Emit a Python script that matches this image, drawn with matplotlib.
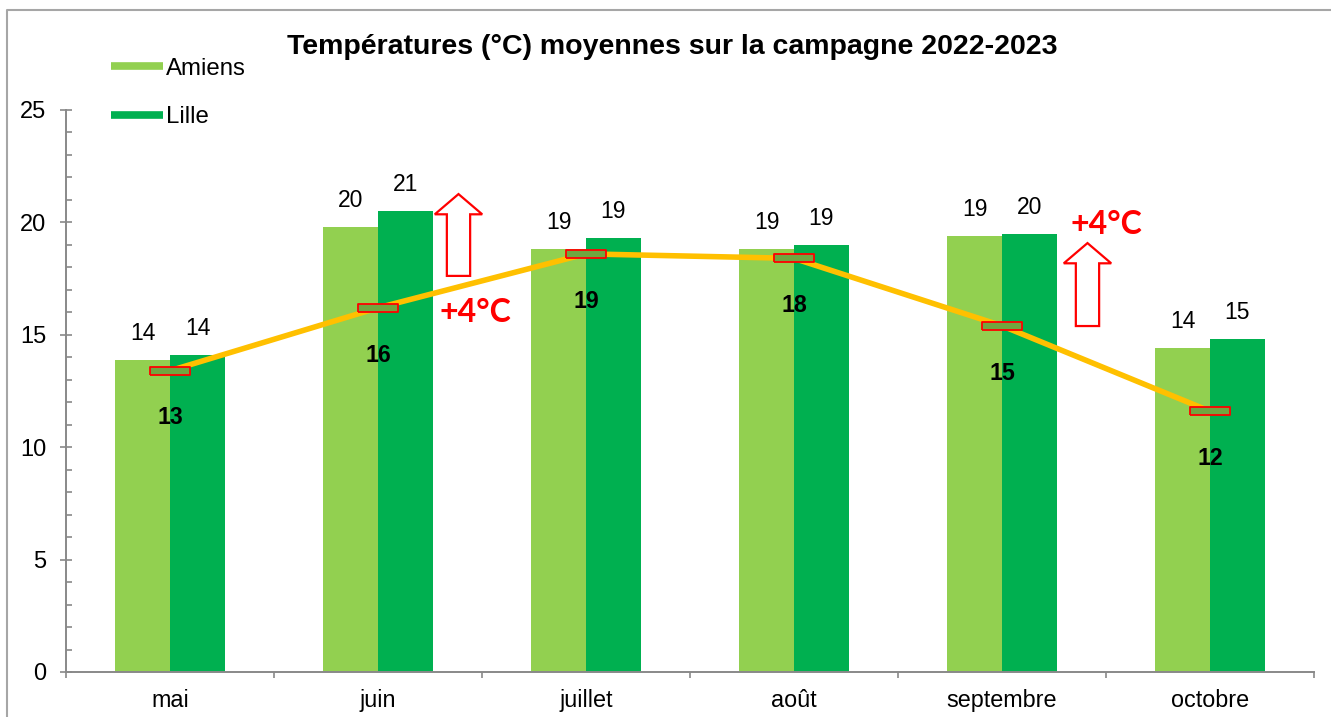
import numpy as np
import matplotlib.pyplot as plt
from matplotlib.lines import Line2D
from matplotlib.patches import FancyArrow
from matplotlib.ticker import MultipleLocator, FixedLocator

plt.rcParams['font.family'] = ['Liberation Sans', 'DejaVu Sans']

# Data
mois = ['mai', 'juin', 'juillet', 'août', 'septembre', 'octobre']
amiens = [13.9, 19.8, 18.8, 18.8, 19.4, 14.4]
lille = [14.1, 20.5, 19.3, 19.0, 19.5, 14.8]
normales = [13.4, 16.2, 18.6, 18.4, 15.4, 11.6]
normales_lbl = [13, 16, 19, 18, 15, 12]
amiens_lbl = [14, 20, 19, 19, 19, 14]
lille_lbl = [14, 21, 19, 19, 20, 15]

# Annotations "+4°C": (x category, arrow tip y, arrow base y, text x, text y)
hausses = [(1.387, 21.26, 17.62, 1.466, 16.0),
           (4.411, 19.08, 15.39, 4.50, 19.9)]

C_AMIENS = '#92D050'
C_LILLE = '#00B050'
C_LIGNE = '#FFC000'
C_AXE = '#898989'

fig = plt.figure(figsize=(13.31, 7.17), dpi=100)
ax = fig.add_axes([66 / 1331, 1 - 672 / 717, (1314 - 66) / 1331, (672 - 110) / 717])

x = np.arange(len(mois))
w = 0.264
ax.bar(x - w / 2, amiens, w, color=C_AMIENS, zorder=2)
ax.bar(x + w / 2, lille, w, color=C_LILLE, zorder=2)

ax.plot(x, normales, color=C_LIGNE, lw=4, zorder=3, solid_capstyle='butt')
rect = [(-5, -1), (5, -1), (5, 1), (-5, 1), (-5, -1)]
ax.plot(x, normales, ls='none', marker=rect, markersize=29.5,
        markerfacecolor='#70A640', markeredgecolor='#FF0000',
        markeredgewidth=1.3, zorder=4)

for i in range(len(mois)):
    ax.annotate(str(amiens_lbl[i]), (x[i] - w / 2, amiens[i]), xytext=(0, 19),
                textcoords='offset points', ha='center', va='center', fontsize=16.5)
    ax.annotate(str(lille_lbl[i]), (x[i] + w / 2, lille[i]), xytext=(0, 19),
                textcoords='offset points', ha='center', va='center', fontsize=16.5)
    ax.annotate(str(normales_lbl[i]), (x[i], normales[i]), xytext=(0, -34),
                textcoords='offset points', ha='center', va='center',
                fontsize=16.7, fontweight='bold')

for ax_x, tip, base, tx, ty in hausses:
    ax.add_patch(FancyArrow(ax_x, base, 0, tip - base, width=0.112,
                            head_width=0.228, head_length=0.9,
                            length_includes_head=True, fill=True,
                            facecolor='white', edgecolor='#FF0000', lw=1.6, zorder=5))
    ax.text(tx, ty, '+4°C', color='#FF0000', fontsize=23, fontweight='bold',
            family=['Lato', 'DejaVu Sans'], ha='center', va='center', zorder=6)

ax.set_xlim(-0.5, len(mois) - 0.5)
ax.set_ylim(0, 25)
ax.set_xticks(x)
ax.set_xticklabels(mois, fontsize=16.8)
ax.xaxis.set_minor_locator(FixedLocator(np.arange(-0.5, len(mois), 1.0)))
ax.tick_params(axis='x', which='major', length=0, pad=12)
ax.tick_params(axis='x', which='minor', length=4.5, width=1.2, color=C_AXE, direction='out')
ax.yaxis.set_major_locator(MultipleLocator(5))
ax.yaxis.set_minor_locator(MultipleLocator(1))
ax.tick_params(axis='y', which='major', length=8.6, width=1.2, color=C_AXE,
               direction='inout', labelsize=17, pad=10)
ax.tick_params(axis='y', which='minor', length=4.3, width=1.2, color=C_AXE, direction='in')
for s in ['top', 'right']:
    ax.spines[s].set_visible(False)
for s in ['left', 'bottom']:
    ax.spines[s].set_color(C_AXE)
    ax.spines[s].set_linewidth(1.4)

fig.text(672 / 1331, 1 - 47 / 717, 'Températures (°C) moyennes sur la campagne 2022-2023',
         ha='center', va='center', fontsize=20.5, fontweight='bold')

handles = [Line2D([], [], color=C_AMIENS, lw=5.5, solid_capstyle='butt'),
           Line2D([], [], color=C_LILLE, lw=5.5, solid_capstyle='butt')]
fig.legend(handles, ['Amiens', 'Lille'], loc='upper left',
           bbox_to_anchor=(89 / 1331, 1 - 36 / 717), frameon=False,
           fontsize=17.3, handlelength=2.16, handletextpad=0.15, labelspacing=1.1)

# cadre gris du graphique (haut et gauche)
fig.add_artist(Line2D([7 / 1331, 7 / 1331, 1], [0, 1 - 10 / 717, 1 - 10 / 717],
                      transform=fig.transFigure, color='#A6A6A6', lw=1.5))

fig.savefig('out.png', dpi=100)
